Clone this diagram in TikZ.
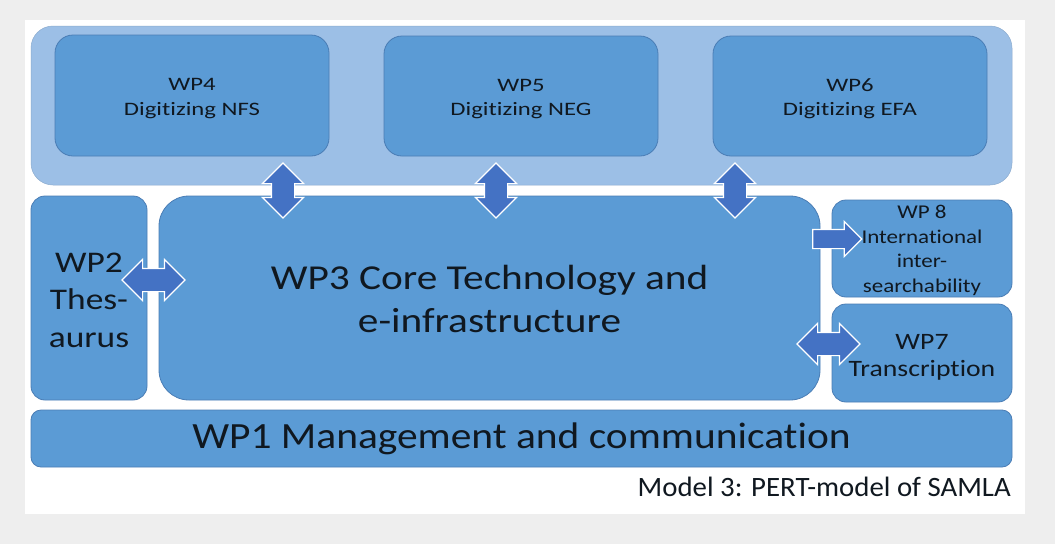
\documentclass[tikz,border=0pt]{standalone}
\usepackage{fontspec}
\setmainfont[FakeStretch=1.18,Ligatures=NoCommon]{Carlito}
\newfontfamily\calibtop[FakeStretch=1.3,Ligatures=NoCommon]{Carlito}
\newfontfamily\calib[FakeStretch=1.12,Ligatures=NoCommon]{Carlito}
\newfontfamily\calibcap[FakeStretch=1.03,Ligatures=NoCommon]{Carlito}
\usetikzlibrary{shapes.arrows}
\definecolor{bgray}{HTML}{EEEEEE}
\definecolor{panel}{HTML}{9CBFE6}
\definecolor{boxfill}{HTML}{5B9BD5}
\definecolor{boxline}{HTML}{4A7DB5}
\definecolor{arrfill}{HTML}{4472C4}
\definecolor{txt}{HTML}{101820}
\newcommand{\pushdown}[1]{\rule{0pt}{#1}}
\tikzset{
  wpbox/.style={draw=boxline, line width=0.8pt, fill=boxfill, rounded corners=#1, inner sep=0pt, align=center, text=txt},
  wpbox/.default=18pt,
  dblarr/.style={shape=double arrow, draw=white, line width=1.2pt, fill=arrfill, inner xsep=0pt, inner ysep=11pt,
     double arrow head extend=9pt, minimum width=#1},
  sglarr/.style={shape=single arrow, draw=white, line width=1.2pt, fill=arrfill, inner xsep=0pt, inner ysep=9pt,
     single arrow head extend=8pt, minimum width=#1},
}
\begin{document}
\begin{tikzpicture}[x=1pt,y=-1pt]
\fill[bgray] (0,0) rectangle (1055,544);
\fill[white] (25,20) rectangle (1025,514);
\useasboundingbox (0,0) rectangle (1055,544);
% outer panel
\node[draw=panel!90!black, line width=0.5pt, fill=panel, rounded corners=22pt, minimum width=981pt, minimum height=159pt] (panel) at (521.5,105.5) {};
% top boxes
\node[wpbox, minimum width=274pt, minimum height=121pt, font=\calibtop\fontsize{19}{24.5}\selectfont] (wp4) at (192,95.5) {\pushdown{18pt}WP4\\Digitizing NFS};
\node[wpbox, minimum width=274pt, minimum height=120pt, font=\calibtop\fontsize{19}{24.5}\selectfont] (wp5) at (521,96) {\pushdown{18pt}WP5\\Digitizing NEG};
\node[wpbox, minimum width=274pt, minimum height=120pt, font=\calibtop\fontsize{19}{24.5}\selectfont] (wp6) at (850,96) {\pushdown{18pt}WP6\\Digitizing EFA};
% middle row
\node[wpbox=14pt, minimum width=116pt, minimum height=204pt, font=\fontsize{30}{37.5}\selectfont] (wp2) at (89,298) {\pushdown{24pt}WP2\\Thes-\\aurus};
\node[wpbox=30pt, minimum width=661pt, minimum height=204pt, font=\fontsize{35}{43}\selectfont] (wp3) at (489.5,298) {\pushdown{27pt}WP3 Core Technology and\\e-infrastructure};
\node[wpbox=14pt, minimum width=180pt, minimum height=97pt, font=\fontsize{19.5}{24.5}\selectfont] (wp8) at (922,248.5) {\pushdown{17pt}WP 8\\International\\inter-\\searchability};
\node[wpbox=14pt, minimum width=180pt, minimum height=98pt, font=\fontsize{23.5}{27}\selectfont] (wp7) at (922,353) {\pushdown{24pt}WP7\\Transcription};
% bottom
\node[wpbox=10pt, minimum width=981pt, minimum height=57pt, font=\calib\fontsize{37}{40}\selectfont] (wp1) at (521.5,438.5) {WP1 Management and communication};
\node[anchor=east, inner sep=0pt, text=txt, font=\calibcap\fontsize{28}{30}\selectfont] (cap) at (1011,487) {Model 3: PERT-model of SAMLA};
% arrows
\node[dblarr=40pt, minimum height=55pt, rotate=90] (a4) at (283,190.5) {};
\node[dblarr=40pt, minimum height=55pt, rotate=90] (a5) at (496,190.5) {};
\node[dblarr=40pt, minimum height=55pt, rotate=90] (a6) at (735,190.5) {};
\node[dblarr=38pt, minimum height=63pt] (a2) at (153.5,280) {};
\node[sglarr=34pt, minimum height=49pt] (a8) at (832.5,239) {};
\node[dblarr=38pt, minimum height=63pt] (a7) at (828.5,344) {};
\end{tikzpicture}
\end{document}
